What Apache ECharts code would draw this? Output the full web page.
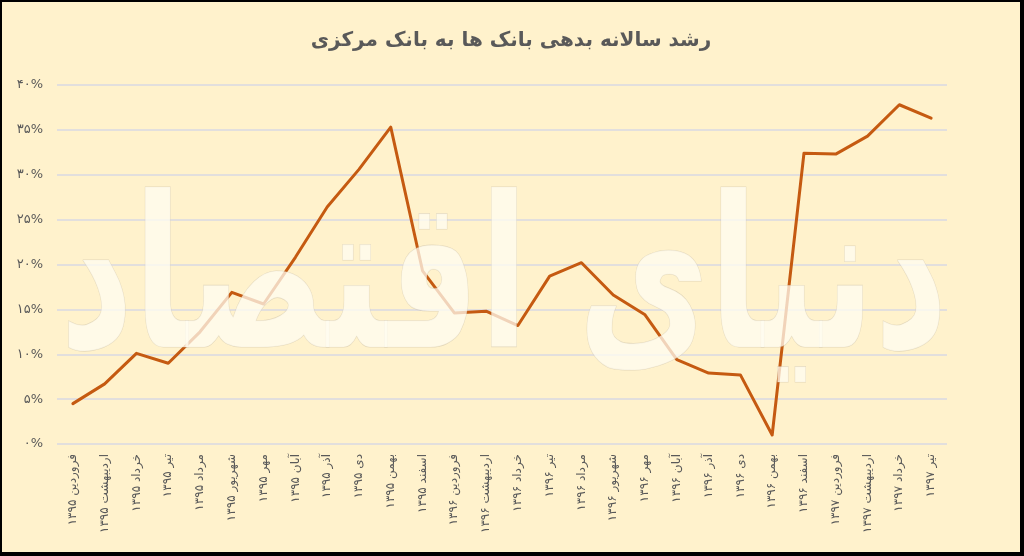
<!DOCTYPE html>
<html>
<head>
<meta charset="utf-8">
<script src="https://cdn.jsdelivr.net/npm/echarts@6/dist/echarts.min.js"></script>
<style>
  html, body { margin: 0; padding: 0; background: #000; }
  #chart { position: absolute; left: 2px; top: 2px; width: 1018px; height: 550px; background: #fff2cc; }
</style>
</head>
<body>
<div id="chart"></div>
<script>
// months of the solar calendar, 1395 to 1397
const months = [
  'فروردین ۱۳۹۵', 'اردیبهشت ۱۳۹۵', 'خرداد ۱۳۹۵', 'تیر ۱۳۹۵', 'مرداد ۱۳۹۵', 'شهریور ۱۳۹۵',
  'مهر ۱۳۹۵', 'آبان ۱۳۹۵', 'آذر ۱۳۹۵', 'دی ۱۳۹۵', 'بهمن ۱۳۹۵', 'اسفند ۱۳۹۵',
  'فروردین ۱۳۹۶', 'اردیبهشت ۱۳۹۶', 'خرداد ۱۳۹۶', 'تیر ۱۳۹۶', 'مرداد ۱۳۹۶', 'شهریور ۱۳۹۶',
  'مهر ۱۳۹۶', 'آبان ۱۳۹۶', 'آذر ۱۳۹۶', 'دی ۱۳۹۶', 'بهمن ۱۳۹۶', 'اسفند ۱۳۹۶',
  'فروردین ۱۳۹۷', 'اردیبهشت ۱۳۹۷', 'خرداد ۱۳۹۷', 'تیر ۱۳۹۷'
]

// yearly growth of banks' debt to the central bank, percent
const growth = [
  4.5, 6.7, 10.1, 9.0, 12.5, 16.9, 15.6, 20.8, 26.4, 30.6, 35.3, 19.3, 14.6, 14.8,
  13.2, 18.7, 20.2, 16.6, 14.4, 9.4, 7.9, 7.7, 1.0, 32.4, 32.3, 34.3, 37.8, 36.3
]

const persianDigits = '۰۱۲۳۴۵۶۷۸۹'
let toPersian = (n) => String(n).replace(/\d/g, d => persianDigits[d])

const FONT = '"DejaVu Sans", sans-serif'

let chart = echarts.init(document.getElementById('chart'))

chart.setOption({
  animation: false,
  title: {
    text: 'رشد سالانه بدهی بانک ها به بانک مرکزی',
    left: 'center',
    top: 24,
    textStyle: { fontFamily: FONT, fontSize: 20, fontWeight: 'bold', color: '#595959' }
  },
  grid: { left: 55, right: 73, top: 83, bottom: 108, containLabel: false },
  xAxis: {
    type: 'category',
    data: months,
    boundaryGap: true,
    axisLine: { show: false },
    axisTick: { show: false },
    axisLabel: {
      rotate: 90,
      interval: 0,
      margin: 10,
      fontFamily: FONT,
      fontSize: 12,
      color: '#595959'
    }
  },
  yAxis: {
    type: 'value',
    min: 0,
    max: 40,
    interval: 5,
    axisLine: { show: false },
    axisTick: { show: false },
    axisLabel: {
      margin: 14,
      fontFamily: FONT,
      fontSize: 13,
      color: '#595959',
      formatter: v => toPersian(v) + '%'
    },
    splitLine: { lineStyle: { color: '#d9d9e3', width: 1.5 } }
  },
  series: [
    {
      name: 'رشد سالانه',
      type: 'line',
      data: growth,
      symbol: 'none',
      lineStyle: { color: '#c55a11', width: 3, join: 'round', cap: 'round' },
      z: 2
    }
  ],
  // faded newspaper logo laid over the plot
  graphic: [
    {
      type: 'text',
      z: 100,
      silent: true,
      x: 58,
      y: 185,
      scaleX: 0.68,
      style: {
        x: 0,
        y: 0,
        text: 'دنیای اقتصاد',
        verticalAlign: 'top',
        font: 'bold 210px "DejaVu Sans", sans-serif',
        fill: 'rgba(255, 252, 242, 0.75)',
        stroke: 'rgba(190, 180, 160, 0.4)',
        lineWidth: 1.2,
        shadowColor: 'rgba(120, 100, 60, 0.35)',
        shadowBlur: 4,
        shadowOffsetX: 2,
        shadowOffsetY: 2
      }
    }
  ]
})
</script>
</body>
</html>
